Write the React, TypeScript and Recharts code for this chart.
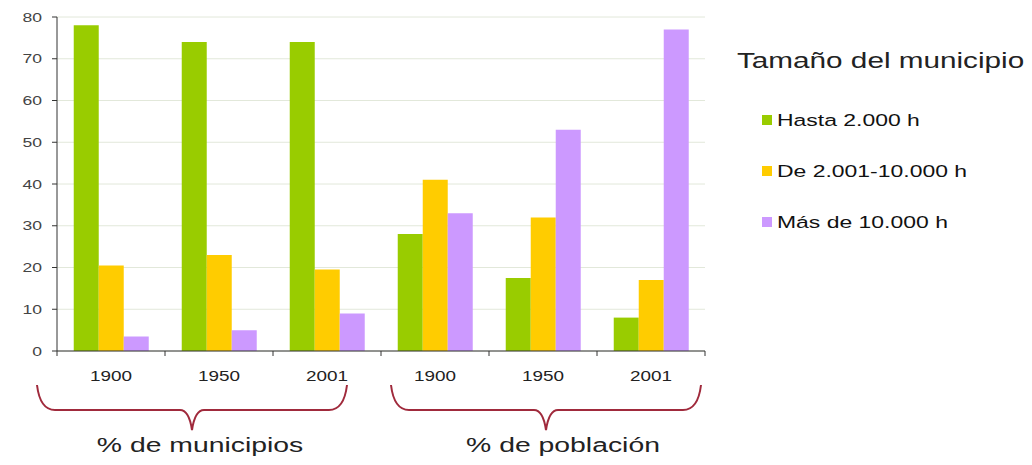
import React from "react";
import { Bar, BarChart, CartesianGrid, XAxis, YAxis } from "recharts";

const keys = ["m1900", "m1950", "m2001", "p1900", "p1950", "p2001"];
const years = ["1900", "1950", "2001", "1900", "1950", "2001"];
const groups = [
  "% de municipios",
  "% de municipios",
  "% de municipios",
  "% de población",
  "% de población",
  "% de población",
];
const hasta = [78, 74, 74, 28, 17.5, 8];
const medio = [20.5, 23, 19.5, 41, 32, 17];
const mas = [3.5, 5, 9, 33, 53, 77];
const yTicks = [0, 10, 20, 30, 40, 50, 60, 70, 80];

const seriesNames = ["Hasta 2.000 h", "De 2.001-10.000 h", "Más de 10.000 h"];
const legendTitle = "Tamaño del municipio";

const data = keys.map((key, i) => ({
  key,
  year: years[i],
  group: groups[i],
  hasta: hasta[i],
  medio: medio[i],
  mas: mas[i],
}));

const W = 1032;
const H = 465;
const PLOT_LEFT = 57;
const PLOT_RIGHT = 705;
const BAND = (PLOT_RIGHT - PLOT_LEFT) / keys.length;
const SX = 1.35; // source image is stretched horizontally
const FONT = "'Liberation Sans', Arial, sans-serif";
const COLORS = ["#99cc00", "#ffcc00", "#cc99ff"];
const BRACE = "#a02a3c";

// hand-placed braces/labels in the original, nudged per group
const BRACE_SHIFT = [-27, 3];
const LABEL_SHIFT = [-19, 20];

// eslint-disable-next-line @typescript-eslint/no-explicit-any
const YTick = (props: any) => {
  const { x, y, payload } = props;
  return (
    <text
      transform={`translate(${x},${y}) scale(${SX},1)`}
      textAnchor="end"
      dominantBaseline="central"
      fontSize={13}
      fontFamily={FONT}
      fill="#444"
    >
      {payload.value}
    </text>
  );
};

// eslint-disable-next-line @typescript-eslint/no-explicit-any
const YearTick = (props: any) => {
  const { x, y, payload, index } = props;
  const top = y - 8;
  return (
    <g>
      <line x1={x - BAND / 2} x2={x - BAND / 2} y1={top} y2={top + 5} stroke="#333" />
      {index === keys.length - 1 && (
        <line x1={x + BAND / 2} x2={x + BAND / 2} y1={top} y2={top + 5} stroke="#333" />
      )}
      <text
        transform={`translate(${x},${y + 22}) scale(${SX},1)`}
        textAnchor="middle"
        fontSize={14}
        fontFamily={FONT}
        fill="#222"
      >
        {years[index]}
      </text>
    </g>
  );
};

// eslint-disable-next-line @typescript-eslint/no-explicit-any
const GroupTick = (props: any) => {
  const { x, y, payload, index } = props;
  const xm = x + BRACE_SHIFT[index];
  const x0 = xm - 155;
  const x1 = xm + 155;
  const yt = y;
  const yh = y + 25;
  const yp = y + 45;
  const d = `M ${x0} ${yt} Q ${x0 + 3} ${yh} ${x0 + 18} ${yh} L ${xm - 12} ${yh} Q ${xm - 3} ${yh} ${xm} ${yp} Q ${xm + 3} ${yh} ${xm + 12} ${yh} L ${x1 - 18} ${yh} Q ${x1 - 3} ${yh} ${x1} ${yt}`;
  return (
    <g>
      <path d={d} fill="none" stroke={BRACE} strokeWidth={2} />
      <text
        transform={`translate(${x + LABEL_SHIFT[index]},${y + 67}) scale(${SX},1)`}
        textAnchor="middle"
        fontSize={21}
        fontFamily={FONT}
        fill="#222"
      >
        {payload.value}
      </text>
    </g>
  );
};

function LegendBox() {
  return (
    <svg
      width={W}
      height={H}
      style={{ position: "absolute", left: 0, top: 0, pointerEvents: "none" }}
    >
      <text
        transform={`translate(737,68) scale(${SX},1)`}
        fontSize={22}
        fontFamily={FONT}
        fill="#222"
      >
        {legendTitle}
      </text>
      {seriesNames.map((name, i) => {
        const cy = 120 + i * 51;
        return (
          <g key={name}>
            <rect x={762} y={cy - 5} width={10} height={10} fill={COLORS[i]} />
            <text
              transform={`translate(777,${cy}) scale(${SX},1)`}
              dominantBaseline="central"
              fontSize={17}
              fontFamily={FONT}
              fill="#111"
            >
              {name}
            </text>
          </g>
        );
      })}
    </svg>
  );
}

export default function App() {
  return (
    <div
      style={{
        position: "absolute",
        left: 0,
        top: 0,
        width: W,
        height: H,
        background: "#fff",
      }}
    >
      <BarChart
        width={W}
        height={H}
        data={data}
        margin={{ top: 17, right: W - PLOT_RIGHT, left: 0, bottom: 0 }}
        barCategoryGap="15.5%"
        barGap={0}
      >
        <CartesianGrid vertical={false} stroke="#e2e8da" />
        <YAxis
          width={PLOT_LEFT}
          domain={[0, 80]}
          ticks={yTicks}
          interval={0}
          tickSize={5}
          tickMargin={10}
          axisLine={{ stroke: "#333" }}
          tickLine={{ stroke: "#333" }}
          tick={<YTick />}
        />
        <XAxis
          xAxisId="cat"
          dataKey="key"
          height={34}
          interval={0}
          tickLine={false}
          axisLine={{ stroke: "#333" }}
          tick={<YearTick />}
        />
        <XAxis
          xAxisId="grp"
          dataKey="group"
          allowDuplicatedCategory={false}
          height={H - 17 - 334 - 34}
          interval={0}
          tickLine={false}
          tickSize={0}
          tickMargin={0}
          axisLine={false}
          tick={<GroupTick />}
        />
        <Bar xAxisId="cat" dataKey="hasta" fill={COLORS[0]} isAnimationActive={false} />
        <Bar xAxisId="cat" dataKey="medio" fill={COLORS[1]} isAnimationActive={false} />
        <Bar xAxisId="cat" dataKey="mas" fill={COLORS[2]} isAnimationActive={false} />
      </BarChart>
      <LegendBox />
    </div>
  );
}
